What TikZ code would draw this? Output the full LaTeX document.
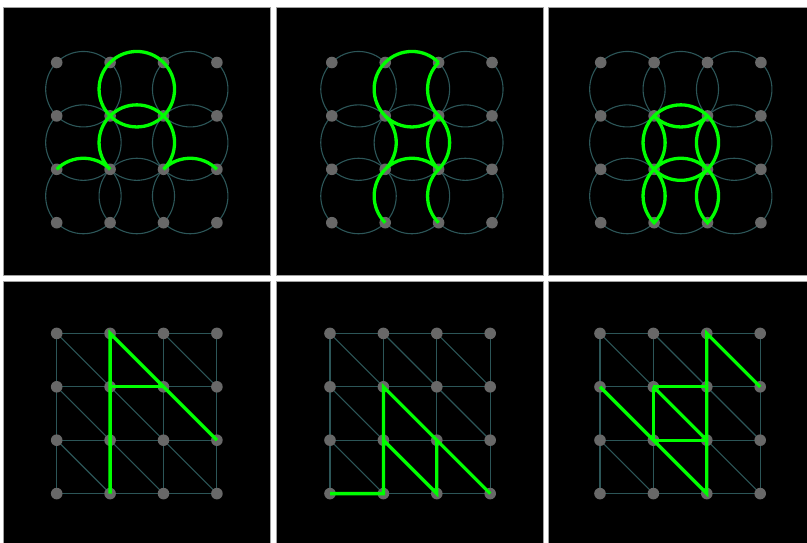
\documentclass[tikz,border=0pt]{standalone}
\definecolor{tealline}{RGB}{44,86,88}
\definecolor{dotgray}{RGB}{104,104,104}
\definecolor{limegreen}{RGB}{0,255,0}
\definecolor{framegray}{RGB}{160,160,160}
\pgfdeclarelayer{back}
\pgfdeclarelayer{mid}
\pgfdeclarelayer{front}
\pgfsetlayers{back,mid,main,front}
\tikzset{
  dot/.style={circle, fill=dotgray, inner sep=0pt, minimum size=11.6pt},
  gridline/.style={draw=tealline, line width=1.1pt},
  hl/.style={draw=limegreen, line width=3.3pt, line join=miter},
  panelbox/.style={fill=black, draw=framegray, line width=1pt},
  bl/.style={bend left=45},
  br/.style={bend right=45}
}
\newcommand{\mkgrid}[3]{%
  \foreach \c in {0,...,3}{\foreach \r in {0,...,3}{
    \node[dot] (#1-\c-\r) at ({#2+\c*53.4},{-(#3+\r*53.4)}) {};
  }}}
\newcommand{\circlegrid}[1]{%
  \begin{pgfonlayer}{mid}
  \foreach \c [count=\cn] in {0,1,2}{\foreach \r [count=\rn] in {0,1,2}{
    \draw[gridline] (#1-\c-\r.center) to[bl] (#1-\cn-\r.center) to[bl] (#1-\cn-\rn.center) to[bl] (#1-\c-\rn.center) to[bl] (#1-\c-\r.center);
  }}
  \end{pgfonlayer}}
\newcommand{\linegrid}[1]{%
  \begin{pgfonlayer}{mid}
  \foreach \c [count=\cn] in {0,1,2}{\foreach \r in {0,...,3}{
    \draw[gridline] (#1-\c-\r.center) -- (#1-\cn-\r.center);
    \draw[gridline] (#1-\r-\c.center) -- (#1-\r-\cn.center);
  }}
  \foreach \c [count=\cn] in {0,1,2}{\foreach \r [count=\rn] in {0,1,2}{
    \draw[gridline] (#1-\c-\r.center) -- (#1-\cn-\rn.center);
  }}
  \end{pgfonlayer}}
\begin{document}
\begin{tikzpicture}[x=1pt,y=1pt]
\useasboundingbox (0,0) rectangle (807,-543);
\begin{pgfonlayer}{back}
  \fill[white] (0,0) rectangle (807,-543);
  \draw[panelbox] (3,-8) rectangle (270,-275);
  \draw[panelbox] (276,-8) rectangle (543,-275);
  \draw[panelbox] (548,-8) rectangle (815,-275);
  \draw[panelbox] (3,-281) rectangle (270,-548);
  \draw[panelbox] (276,-281) rectangle (543,-548);
  \draw[panelbox] (548,-281) rectangle (815,-548);
\end{pgfonlayer}
% dots
\mkgrid{A}{56.7}{62.5}
\mkgrid{B}{331.8}{62.5}
\mkgrid{C}{600.7}{62.5}
\mkgrid{D}{56.7}{333.4}
\mkgrid{E}{330.0}{333.4}
\mkgrid{F}{600.0}{333.4}
% teal background patterns
\circlegrid{A}
\circlegrid{B}
\circlegrid{C}
\linegrid{D}
\linegrid{E}
\linegrid{F}
% green highlights
\begin{pgfonlayer}{front}
  % panel A
  \draw[hl] (A-1-0.center) to[bl] (A-2-0.center) to[bl] (A-2-1.center) to[bl] (A-1-1.center) to[bl] (A-1-0.center);
  \draw[hl] (A-0-2.center) to[bl] (A-1-2.center) to[bl] (A-1-1.center) to[bl] (A-2-1.center) to[bl] (A-2-2.center) to[bl] (A-3-2.center);
  % panel B
  \draw[hl] (B-2-0.center) to[br] (B-1-0.center) to[br] (B-1-1.center) to[br] (B-2-1.center) to[bl] (B-2-0.center);
  \draw[hl] (B-1-1.center) to[bl] (B-1-2.center) to[bl] (B-2-2.center) to[bl] (B-2-1.center) to[bl] (B-2-2.center) to[br] (B-2-3.center);
  \draw[hl] (B-1-2.center) to[br] (B-1-3.center);
  % panel C
  \draw[hl] (C-1-1.center) to[bl] (C-2-1.center) to[bl] (C-2-2.center) to[bl] (C-1-2.center) to[bl] (C-1-1.center);
  \draw[hl] (C-1-1.center) to[br] (C-2-1.center) to[br] (C-2-2.center);
  \draw[hl] (C-1-1.center) to[bl] (C-1-2.center) to[bl] (C-2-2.center);
  \draw[hl] (C-1-2.center) to[br] (C-1-3.center) to[br] (C-1-2.center);
  \draw[hl] (C-2-2.center) to[br] (C-2-3.center) to[br] (C-2-2.center);
  % panel D
  \draw[hl] (D-1-3.center) -- (D-1-0.center) -- (D-2-1.center) -- (D-3-2.center);
  \draw[hl] (D-1-1.center) -- (D-2-1.center);
  % panel E
  \draw[hl] (E-0-3.center) -- (E-1-3.center) -- (E-1-1.center) -- (E-2-2.center) -- (E-3-3.center);
  \draw[hl] (E-1-2.center) -- (E-2-3.center) -- (E-2-2.center);
  % panel F
  \draw[hl] (F-3-1.center) -- (F-2-0.center) -- (F-2-3.center) -- (F-1-2.center) -- (F-0-1.center);
  \draw[hl] (F-1-1.center) -- (F-2-1.center);
  \draw[hl] (F-1-2.center) -- (F-2-2.center);
  \draw[hl] (F-1-1.center) -- (F-1-2.center);
  \draw[hl] (F-1-1.center) -- (F-2-2.center);
\end{pgfonlayer}
\end{tikzpicture}
\end{document}
